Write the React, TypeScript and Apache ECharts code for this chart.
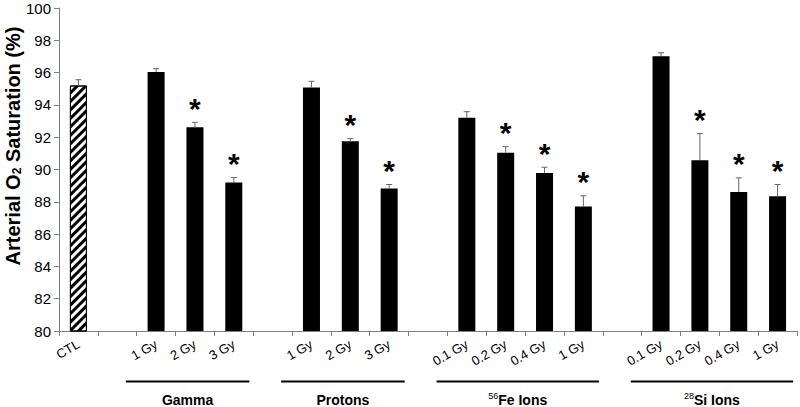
import React, { useEffect, useRef } from "react";
import * as echarts from "echarts";

const categories = ["CTL", "", "1 Gy", "2 Gy", "3 Gy", "", "1 Gy", "2 Gy", "3 Gy", "", "0.1 Gy", "0.2 Gy", "0.4 Gy", "1 Gy", "", "0.1 Gy", "0.2 Gy", "0.4 Gy", "1 Gy"];
const means: (number | null)[] = [95.2, null, 96.03, 92.61, 89.19, null, 95.07, 91.75, 88.82, null, 93.21, 91.03, 89.79, 87.71, null, 97.02, 90.57, 88.61, 88.35];
const errors: (number | null)[] = [0.36, null, 0.21, 0.31, 0.31, null, 0.39, 0.16, 0.25, null, 0.37, 0.39, 0.35, 0.66, null, 0.21, 1.65, 0.87, 0.72];
const significant = [0, 0, 0, 1, 1, 0, 0, 1, 1, 0, 0, 1, 1, 1, 0, 0, 1, 1, 1];
const groupIsotopes = ["", "", "56", "28"];
const groupNames = ["Gamma", "Protons", "Fe Ions", "Si Ions"];
const groupFirst = [2, 6, 10, 15];
const groupLast = [4, 8, 13, 18];
const yTicks = { min: 80, max: 100, interval: 2 };

const FONT = "'Liberation Sans', Arial, Helvetica, sans-serif";

export default function App() {
  const ref = useRef<HTMLDivElement>(null);
  useEffect(() => {
    if (!ref.current) return;
    const chart = echarts.init(ref.current, null, { renderer: "svg" });
    const barData = means.map((v, i) =>
      v == null
        ? null
        : i === 0
        ? {
            value: v,
            itemStyle: {
              color: "#fff",
              borderColor: "#000",
              borderWidth: 1,
              decal: {
                symbol: "rect",
                symbolSize: 1,
                dashArrayX: [1, 0],
                dashArrayY: [2.2, 2.2],
                rotation: -Math.PI / 4,
                color: "#000",
                backgroundColor: "#fff",
              },
            },
          }
        : v
    );
    const errData: number[][] = [];
    means.forEach((v, i) => {
      if (v != null) errData.push([i, v, errors[i] as number, significant[i]]);
    });
    chart.setOption({
      animation: false,
      aria: { enabled: false, decal: { show: false } },
      grid: { left: 59, right: 3, top: 8, bottom: 76 },
      xAxis: {
        type: "category",
        data: categories,
        axisLine: { lineStyle: { color: "#808080", width: 1 } },
        axisTick: { show: true, length: 5, lineStyle: { color: "#808080" }, interval: 0 },
        axisLabel: {
          interval: 0,
          rotate: 30,
          margin: 12,
          fontSize: 13,
          color: "#000",
          fontFamily: FONT,
        },
      },
      yAxis: {
        type: "value",
        min: yTicks.min,
        max: yTicks.max,
        interval: yTicks.interval,
        splitLine: { show: false },
        axisLine: { show: true, lineStyle: { color: "#808080", width: 1 } },
        axisTick: { show: true, length: 5, lineStyle: { color: "#808080" } },
        axisLabel: { fontSize: 15, color: "#000", margin: 8, fontFamily: FONT },
      },
      series: [
        {
          type: "bar",
          data: barData,
          barWidth: 17,
          itemStyle: { color: "#000" },
        },
        {
          type: "custom",
          data: errData,
          z: 5,
          renderItem: (params: any, api: any) => {
            const idx = api.value(0);
            const v = api.value(1);
            const e = api.value(2);
            const star = api.value(3);
            const base = api.coord([idx, v]);
            const top = api.coord([idx, v + e]);
            const children: any[] = [
              {
                type: "line",
                shape: { x1: base[0], y1: base[1], x2: top[0], y2: top[1] },
                style: { stroke: "#666", lineWidth: 1 },
              },
              {
                type: "line",
                shape: { x1: top[0] - 3, y1: top[1], x2: top[0] + 3, y2: top[1] },
                style: { stroke: "#666", lineWidth: 1 },
              },
            ];
            if (star) {
              children.push({
                type: "text",
                style: {
                  text: "*",
                  x: top[0],
                  y: top[1] - 14,
                  textAlign: "center",
                  textVerticalAlign: "middle",
                  font: `bold 30px ${FONT}`,
                  fill: "#000",
                },
              });
            }
            return { type: "group", children };
          },
        },
      ],
    });

    const cw = (chart.convertToPixel({ xAxisIndex: 0 }, 1) as number) - (chart.convertToPixel({ xAxisIndex: 0 }, 0) as number);
    const graphics: any[] = [
      {
        type: "text",
        x: 12,
        y: 146,
        rotation: Math.PI / 2,
        style: {
          text: "{a|Arterial O}{s|2}{a| Saturation (%)}",
          textAlign: "center",
          textVerticalAlign: "middle",
          rich: {
            a: { font: `bold 20px ${FONT}`, fill: "#000", verticalAlign: "bottom", lineHeight: 22 },
            s: { font: `bold 12px ${FONT}`, fill: "#000", verticalAlign: "bottom", lineHeight: 18 },
          },
        },
      },
    ];
    groupNames.forEach((name, g) => {
      const x1 = (chart.convertToPixel({ xAxisIndex: 0 }, groupFirst[g]) as number) - 0.78 * cw;
      const x2 = (chart.convertToPixel({ xAxisIndex: 0 }, groupLast[g]) as number) + 0.4 * cw;
      graphics.push({
        type: "line",
        shape: { x1, y1: 381.5, x2, y2: 381.5 },
        style: { stroke: "#000", lineWidth: 2 },
      });
      const iso = groupIsotopes[g];
      graphics.push({
        type: "text",
        x: (x1 + x2) / 2,
        y: 399,
        style: {
          text: iso ? `{sup|${iso}}{b|${name}}` : `{b|${name}}`,
          textAlign: "center",
          textVerticalAlign: "middle",
          rich: {
            sup: { font: `9px ${FONT}`, fill: "#000", verticalAlign: "top", lineHeight: 16 },
            b: { font: `bold 14px ${FONT}`, fill: "#000", verticalAlign: "bottom", lineHeight: 16 },
          },
        },
      });
    });
    chart.setOption({ graphic: graphics });
    return () => chart.dispose();
  }, []);
  return (
    <div
      ref={ref}
      style={{ position: "absolute", left: 0, top: 0, width: 800, height: 407, background: "#fff" }}
    />
  );
}
